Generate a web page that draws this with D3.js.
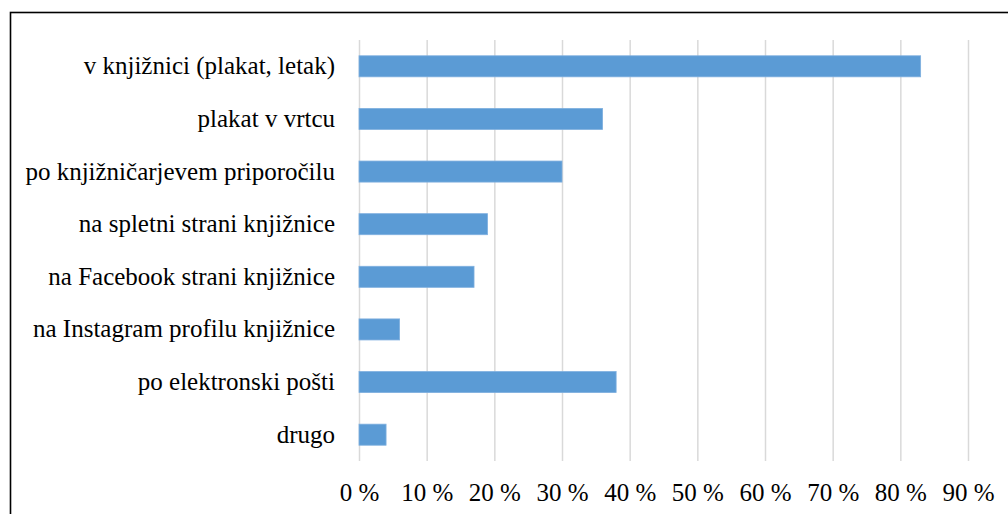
<!DOCTYPE html>
<html>
<head>
<meta charset="utf-8">
<script src="https://cdn.jsdelivr.net/npm/d3@7"></script>
<style>
  body { margin: 0; background: #fff; }
  svg { display: block; }
  svg text { font-family: 'Liberation Serif', 'Times New Roman', Times, serif; }
</style>
</head>
<body>
<svg width="1008" height="514"></svg>
<script>
// Data
const categories = [
    'v knjižnici (plakat, letak)',
    'plakat v vrtcu',
    'po knjižničarjevem priporočilu',
    'na spletni strani knjižnice',
    'na Facebook strani knjižnice',
    'na Instagram profilu knjižnice',
    'po elektronski pošti',
    'drugo'
];
const values = [83, 36, 30, 19, 17, 6, 38, 4];
const tickValues = [0, 10, 20, 30, 40, 50, 60, 70, 80, 90];

const svg = d3.select('svg');
const plot = { left: 359, right: 968, top: 40, bottom: 461 };
const serif = 'Liberation Serif, Times New Roman, Times, serif';

// outer frame
svg.append('rect')
    .attr('x', 10.5)
    .attr('y', 12.5)
    .attr('width', 1100)
    .attr('height', 600)
    .attr('fill', 'none')
    .attr('stroke', '#000')
    .attr('stroke-width', 1.6);

const xScale = d3.scaleLinear()
    .domain([0, 90])
    .range([plot.left, plot.right]);

const yScale = d3.scaleBand()
    .domain(categories)
    .range([plot.top, plot.bottom])
    .paddingInner(0.6)
    .paddingOuter(0.3);

// x axis with gridlines
const xAxis = d3.axisBottom(xScale)
    .tickValues(tickValues)
    .tickFormat(d => d + ' %')
    .tickSize(-(plot.bottom - plot.top))
    .tickPadding(22);

const gx = svg.append('g')
    .attr('transform', `translate(0,${plot.bottom})`)
    .call(xAxis)
    .attr('font-family', serif)
    .attr('font-size', 25);
gx.select('.domain').remove();
gx.selectAll('.tick line')
    .attr('stroke', '#d9d9d9')
    .attr('stroke-width', 1.5);
gx.selectAll('.tick text')
    .attr('fill', '#000');

// bars
svg.append('g')
    .selectAll('rect')
    .data(categories.map((c, i) => ({ category: c, value: values[i] })))
    .join('rect')
    .attr('x', xScale(0))
    .attr('y', d => yScale(d.category))
    .attr('width', d => xScale(d.value) - xScale(0))
    .attr('height', yScale.bandwidth())
    .attr('fill', '#5b9bd5')
    .attr('stroke', '#7fb0df')
    .attr('stroke-width', 0.8);

// y axis labels
const yAxis = d3.axisLeft(yScale)
    .tickSize(0)
    .tickPadding(24);

const gy = svg.append('g')
    .attr('transform', `translate(${plot.left},0)`)
    .call(yAxis)
    .attr('font-family', serif)
    .attr('font-size', 25);
gy.select('.domain').remove();
gy.selectAll('.tick text')
    .attr('fill', '#000');
</script>
</body>
</html>
